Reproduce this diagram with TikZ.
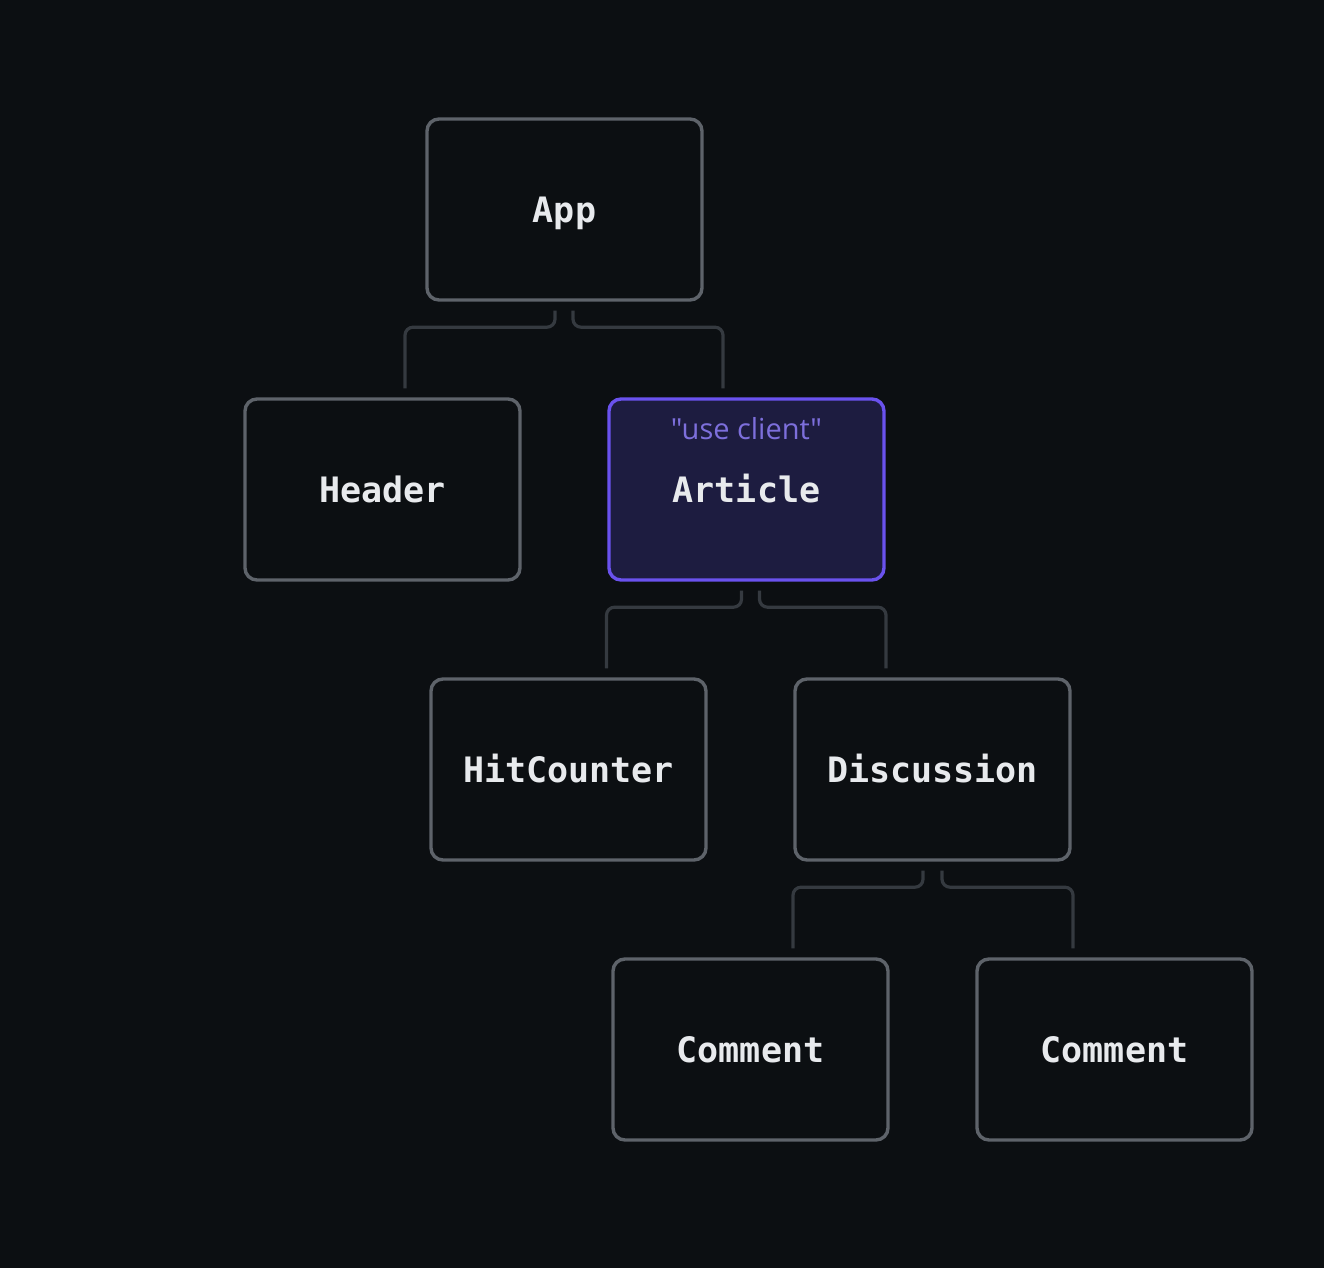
\documentclass[tikz,border=0pt]{standalone}
\usepackage{fontspec}
\setmonofont{DejaVu Sans Mono}
\newfontfamily\labelfont{Open Sans}
\definecolor{pagebg}{HTML}{0C0F12}
\definecolor{boxedge}{HTML}{5E636A}
\definecolor{linkgray}{HTML}{353A40}
\definecolor{compfg}{HTML}{E8EAED}
\definecolor{clientfill}{HTML}{1D1C40}
\definecolor{clientedge}{HTML}{6A52EE}
\definecolor{clientfg}{HTML}{7D6FDC}
\usetikzlibrary{calc}

\tikzset{
  comp/.style={draw=boxedge, fill=pagebg, line width=3.4pt, rounded corners=12pt,
    minimum width=275pt, minimum height=181pt, inner sep=0pt,
    text height=25.5pt, text depth=0pt,
    text=compfg, font=\ttfamily\bfseries\fontsize{35}{40}\selectfont},
  clientcomp/.style={comp, draw=clientedge, fill=clientfill},
  clientnote/.style={text=clientfg, inner sep=0pt, font=\labelfont\fontsize{29}{34}\selectfont},
  link/.style={draw=linkgray, line width=3.2pt, rounded corners=8pt}
}

\begin{document}
\begin{tikzpicture}[x=1pt, y=-1pt]
  \fill[pagebg] (0,0) rectangle (1324,1268);
  \useasboundingbox (0,0) rectangle (1324,1268);

  % component tree
  \node[comp] (app) at (564.5,209.5) {App};
  \node[comp] (header) at (382.5,489.5) {Header};
  \node[clientcomp] (article) at (746.5,489.5) {Article};
  \node[clientnote] (useclient) at ([yshift=-31pt]article.north) {"use client"};
  \node[comp] (hitcounter) at (568.5,769.5) {HitCounter};
  \node[comp] (discussion) at (932.5,769.5) {Discussion};
  \node[comp] (commentA) at (750.5,1049.5) {Comment};
  \node[comp] (commentB) at (1114.5,1049.5) {Comment};

  % connectors
  \draw[link] ([xshift=-9.5pt,yshift=-9pt]app.south) -- ++(0,16.5) -| ([xshift=22.5pt,yshift=9pt]header.north);
  \draw[link] ([xshift=8.5pt,yshift=-9pt]app.south) -- ++(0,16.5) -| ([xshift=-23.5pt,yshift=9pt]article.north);
  \draw[link] ([xshift=-5pt,yshift=-9pt]article.south) -- ++(0,16.5) -| ([xshift=38pt,yshift=9pt]hitcounter.north);
  \draw[link] ([xshift=13pt,yshift=-9pt]article.south) -- ++(0,16.5) -| ([xshift=-46.5pt,yshift=9pt]discussion.north);
  \draw[link] ([xshift=-9.5pt,yshift=-9pt]discussion.south) -- ++(0,16.5) -| ([xshift=42.5pt,yshift=9pt]commentA.north);
  \draw[link] ([xshift=9.5pt,yshift=-9pt]discussion.south) -- ++(0,16.5) -| ([xshift=-41.5pt,yshift=9pt]commentB.north);
\end{tikzpicture}
\end{document}
